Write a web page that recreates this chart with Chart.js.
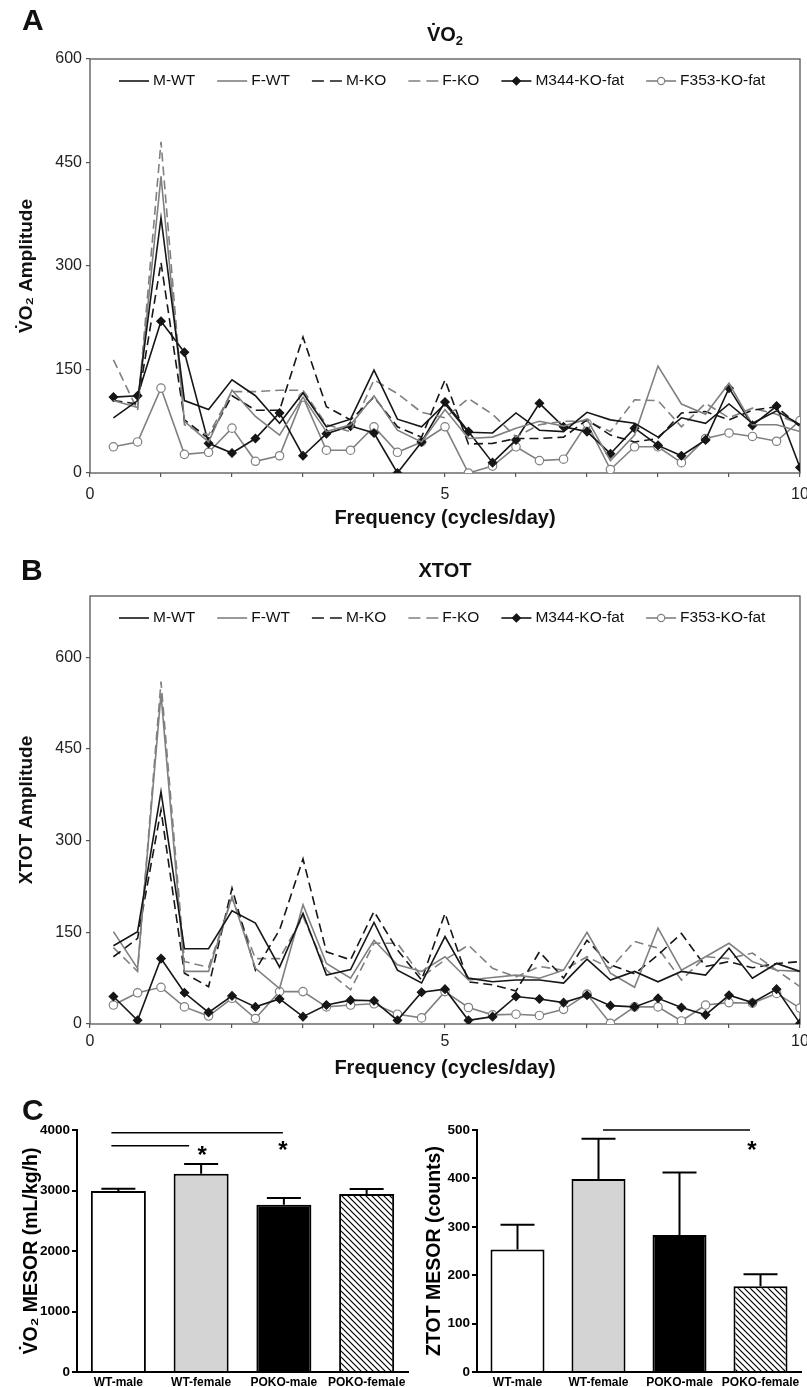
<!DOCTYPE html>
<html>
<head>
<meta charset="utf-8">
<script src="https://cdn.jsdelivr.net/npm/chart.js@4.4.1/dist/chart.umd.min.js"></script>
<style>
body{margin:0;background:#fff;}
#fig{position:relative;width:807px;height:1387px;overflow:hidden;font-family:"Liberation Sans",Arial,sans-serif;color:#111;}
canvas{position:absolute;}
.lbl{position:absolute;font-weight:bold;white-space:nowrap;}
.lbl sub{font-size:13px;line-height:0;vertical-align:-4px;}
</style>
</head>
<body>
<div id="fig">
  <canvas id="chA" width="807" height="530" style="left:0;top:0"></canvas>
  <canvas id="chB" width="807" height="550" style="left:0;top:540px"></canvas>
  <canvas id="chC1" width="410" height="287" style="left:0;top:1100px"></canvas>
  <canvas id="chC2" width="407" height="287" style="left:400px;top:1100px"></canvas>
  <div class="lbl" style="left:22px;top:2px;font-size:30px;line-height:36px">A</div>
  <div class="lbl" style="left:345px;width:200px;text-align:center;top:22px;font-size:20px;line-height:24px">V&#775;O<sub>2</sub></div>
  <div class="lbl" style="left:21px;top:552px;font-size:30px;line-height:36px">B</div>
  <div class="lbl" style="left:345px;width:200px;text-align:center;top:558px;font-size:20px;line-height:24px">XTOT</div>
  <div class="lbl" style="left:22px;top:1092px;font-size:30px;line-height:36px">C</div>
</div>
<script>
// frequencies (cycles/day)
const freq = [0.33,0.67,1,1.33,1.67,2,2.33,2.67,3,3.33,3.67,4,4.33,4.67,5,5.33,5.67,6,6.33,6.67,7,7.33,7.67,8,8.33,8.67,9,9.33,9.67,10];
const seriesNames = ['M-WT','F-WT','M-KO','F-KO','M344-KO-fat','F353-KO-fat'];

// panel A: VO2 amplitude
const vo2MWT  = [80,105,370,105,92,135,112,72,116,67,78,149,78,67,100,59,58,87,62,60,88,77,72,52,80,72,100,72,90,70];
const vo2FWT  = [105,95,430,75,45,120,82,55,110,60,70,112,62,45,92,50,52,65,75,68,78,18,55,155,100,85,130,70,70,60];
const vo2MKO  = [105,100,305,77,50,112,91,91,197,96,77,110,67,52,135,42,43,50,50,52,77,55,45,50,87,89,77,91,96,67];
const vo2FKO  = [164,91,480,70,55,118,118,120,120,70,60,135,115,88,80,108,85,52,70,75,75,60,106,105,67,101,80,94,85,70];
const vo2M344 = [110,112,220,175,43,29,50,87,25,57,68,58,0,45,103,60,15,48,101,67,60,28,65,40,25,48,123,69,97,8];
const vo2F353 = [38,45,123,27,30,65,17,25,110,33,33,67,30,45,67,0,10,38,18,20,72,5,38,38,15,50,58,53,46,76];

// panel B: XTOT amplitude
const xtotMWT  = [128,151,380,123,123,185,165,93,181,80,89,166,88,67,143,75,69,72,72,67,106,72,86,69,86,80,124,75,99,86];
const xtotFWT  = [151,91,540,86,86,208,91,58,195,99,75,137,97,86,110,72,76,80,75,88,150,83,60,157,88,110,132,102,88,86];
const xtotMKO  = [110,140,350,83,61,222,88,154,270,118,105,184,121,72,181,69,64,54,118,75,137,97,82,113,148,94,102,92,99,102];
const xtotFKO  = [125,86,560,102,93,206,107,107,176,88,56,132,132,77,105,129,91,77,94,88,110,91,135,124,72,110,107,116,88,61];
const xtotM344 = [45,6,107,51,19,46,28,41,12,31,39,38,6,52,57,6,12,45,41,35,47,30,28,42,27,15,47,35,57,1];
const xtotF353 = [31,51,60,28,13,42,9,53,53,28,31,33,16,10,53,27,15,16,14,24,49,1,28,28,5,31,35,34,50,26];

// panel C: MESOR means and SEM
const groups = ['WT-male','WT-female','POKO-male','POKO-female'];
const vo2Mesor = [2990,3277,2764,2941];
const vo2Sem   = [40,160,111,83];
const ztotMesor = [253,399,283,177];
const ztotSem   = [51,83,129,25];

const FONT = '"Liberation Sans", Arial, sans-serif';
const BLACK = '#161616', GRAY = '#808080';

const styles = [
  {color: BLACK, dash: []},
  {color: GRAY, dash: []},
  {color: BLACK, dash: [9,5]},
  {color: GRAY, dash: [9,5]},
  {color: BLACK, dash: [], point: 'rectRot', fill: BLACK},
  {color: GRAY, dash: [], point: 'circle', fill: '#fff'}
];

function makeSets(list){
  return list.map((vals, i) => {
    const s = styles[i];
    return {
      label: seriesNames[i],
      data: freq.map((f, k) => ({x: f, y: vals[k]})),
      borderColor: s.color,
      borderWidth: 1.6,
      borderDash: s.dash,
      pointStyle: s.point || 'circle',
      pointRadius: s.point ? 4.2 : 0,
      pointBackgroundColor: s.fill || s.color,
      pointBorderColor: s.color,
      pointBorderWidth: 1.2,
      tension: 0,
      fill: false
    };
  });
}

// box round the plot area
const framePlugin = {
  id: 'frame',
  beforeDatasetsDraw(chart){
    const {ctx, chartArea: a} = chart;
    ctx.save();
    ctx.strokeStyle = '#555';
    ctx.lineWidth = 1.3;
    ctx.strokeRect(a.left, a.top, a.right - a.left, a.bottom - a.top);
    ctx.restore();
  }
};

// legend drawn inside the plot area, one row
const insideLegend = {
  id: 'insideLegend',
  afterDraw(chart){
    const {ctx, chartArea: a} = chart;
    let x = a.left + 29;
    const y = a.top + 22;
    ctx.save();
    ctx.font = '15.5px ' + FONT;
    ctx.textBaseline = 'middle';
    chart.data.datasets.forEach(ds => {
      ctx.strokeStyle = ds.borderColor;
      ctx.lineWidth = ds.borderWidth;
      ctx.setLineDash(ds.borderDash && ds.borderDash.length ? [12, 6] : []);
      ctx.beginPath(); ctx.moveTo(x, y); ctx.lineTo(x + 30, y); ctx.stroke();
      ctx.setLineDash([]);
      if(ds.pointRadius > 0){
        const r = ds.pointStyle === 'rectRot' ? 4 : 3.6, cx = x + 15;
        ctx.fillStyle = ds.pointBackgroundColor;
        ctx.lineWidth = ds.pointBorderWidth;
        ctx.beginPath();
        if(ds.pointStyle === 'rectRot'){
          ctx.moveTo(cx, y - r); ctx.lineTo(cx + r, y); ctx.lineTo(cx, y + r); ctx.lineTo(cx - r, y); ctx.closePath();
        } else {
          ctx.arc(cx, y, r, 0, Math.PI * 2);
        }
        ctx.fill(); ctx.stroke();
      }
      ctx.fillStyle = '#111';
      ctx.fillText(ds.label, x + 34, y);
      x += 34 + ctx.measureText(ds.label).width + 22;
    });
    ctx.restore();
  }
};

function lineChart(id, sets, yMax, yTicks, yTitle, geo){
  return new Chart(document.getElementById(id), {
    type: 'line',
    data: {datasets: makeSets(sets)},
    options: {
      responsive: false,
      animation: false,
      layout: {padding: {left: 0, right: 7, top: geo.top, bottom: 0}},
      plugins: {legend: {display: false}, tooltip: {enabled: false}},
      scales: {
        x: {
          type: 'linear', min: 0, max: 10,
          grid: {display: true, drawOnChartArea: false, drawTicks: true, tickLength: 4, color: '#555', lineWidth: 1.2},
          border: {display: false},
          ticks: {stepSize: 1, autoSkip: false, maxRotation: 0, padding: geo.tickPad, color: '#222',
                  font: {family: FONT, size: 16},
                  callback: v => (v % 5 === 0 ? v : '')},
          title: {display: true, text: 'Frequency (cycles/day)', color: '#111',
                  font: {family: FONT, size: 20, weight: 'bold'}, padding: {top: 0, bottom: geo.titlePad}},
          afterFit: s => { s.height = geo.xh; s.paddingLeft = 0; s.paddingRight = 0; }
        },
        y: {
          min: 0, max: yMax,
          grid: {display: true, drawOnChartArea: false, drawTicks: true, tickLength: 4, color: '#555', lineWidth: 1.2},
          border: {display: false},
          afterBuildTicks: s => { s.ticks = yTicks.map(v => ({value: v})); },
          ticks: {padding: 4, color: '#222', font: {family: FONT, size: 16}},
          title: {display: true, text: yTitle, color: '#111',
                  font: {family: FONT, size: 19, weight: 'bold'}, padding: {top: 15, bottom: 0}},
          afterFit: s => { s.width = 90; }
        }
      }
    },
    plugins: [framePlugin, insideLegend]
  });
}

lineChart('chA', [vo2MWT, vo2FWT, vo2MKO, vo2FKO, vo2M344, vo2F353], 600, [0,150,300,450,600],
  'V\u0307O\u2082 Amplitude', {top: 59, xh: 57, tickPad: 8, titlePad: 0});
lineChart('chB', [xtotMWT, xtotFWT, xtotMKO, xtotFKO, xtotM344, xtotF353], 700, [0,150,300,450,600],
  'XTOT Amplitude', {top: 56, xh: 66, tickPad: 4, titlePad: 10});

// error bars (upward only) and significance marks
const errPlugin = {
  id: 'errbars',
  afterDatasetsDraw(chart){
    const {ctx} = chart;
    const meta = chart.getDatasetMeta(0);
    const ds = chart.data.datasets[0];
    const y = chart.scales.y;
    ctx.save();
    ctx.strokeStyle = '#000';
    ctx.lineWidth = 2;
    meta.data.forEach((bar, i) => {
      const top = y.getPixelForValue(ds.data[i] + ds.sem[i]);
      ctx.beginPath();
      ctx.moveTo(bar.x, bar.y); ctx.lineTo(bar.x, top);
      ctx.moveTo(bar.x - 17, top); ctx.lineTo(bar.x + 17, top);
      ctx.stroke();
    });
    ctx.restore();
  }
};
const sigPlugin = {
  id: 'sig',
  afterDatasetsDraw(chart, args, opts){
    const {ctx} = chart;
    const meta = chart.getDatasetMeta(0);
    const y = chart.scales.y;
    ctx.save();
    ctx.strokeStyle = '#000';
    ctx.lineWidth = 1.6;
    (opts.lines || []).forEach(l => {
      const yy = y.getPixelForValue(l.v);
      ctx.beginPath();
      ctx.moveTo(meta.data[l.a].x + l.da, yy);
      ctx.lineTo(meta.data[l.b].x + l.db, yy);
      ctx.stroke();
    });
    ctx.fillStyle = '#000';
    ctx.font = 'bold 24px ' + FONT;
    ctx.textAlign = 'center';
    ctx.textBaseline = 'alphabetic';
    (opts.stars || []).forEach(s => {
      ctx.fillText('*', meta.data[s.i].x + s.dx, y.getPixelForValue(s.v) + 14);
    });
    ctx.restore();
  }
};

function hatch(canvasId){
  const c = document.createElement('canvas');
  c.width = 6; c.height = 6;
  const g = c.getContext('2d');
  g.fillStyle = '#fff'; g.fillRect(0, 0, 6, 6);
  g.strokeStyle = '#000'; g.lineWidth = 1.2;
  g.beginPath();
  g.moveTo(-1, -1); g.lineTo(7, 7);
  g.moveTo(-1, 5); g.lineTo(1, 7);
  g.moveTo(5, -1); g.lineTo(7, 1);
  g.stroke();
  return document.getElementById(canvasId).getContext('2d').createPattern(c, 'repeat');
}

function barChart(id, vals, sem, yMax, step, yTitle, titlePad, padRight, barPct, sig){
  return new Chart(document.getElementById(id), {
    type: 'bar',
    data: {
      labels: groups,
      datasets: [{
        data: vals,
        sem: sem,
        backgroundColor: ['#fff', '#d4d4d4', '#000', hatch(id)],
        borderColor: '#000',
        borderWidth: 2,
        categoryPercentage: 1,
        barPercentage: barPct
      }]
    },
    options: {
      responsive: false,
      animation: false,
      layout: {padding: {left: 0, right: padRight, top: 30, bottom: 0}},
      plugins: {legend: {display: false}, tooltip: {enabled: false}, sig: sig},
      scales: {
        x: {
          grid: {display: false, drawTicks: false},
          border: {display: true, color: '#000', width: 2},
          ticks: {padding: 3, color: '#000', maxRotation: 0, autoSkip: false,
                  font: {family: FONT, size: 12, weight: 'bold'}},
          afterFit: s => { s.height = 15; s.paddingLeft = 0; s.paddingRight = 0; }
        },
        y: {
          min: 0, max: yMax,
          grid: {display: true, drawOnChartArea: false, drawTicks: true, tickLength: 5, color: '#000', lineWidth: 2},
          border: {display: true, color: '#000', width: 2},
          ticks: {stepSize: step, padding: 2, color: '#000', font: {family: FONT, size: 13.5, weight: 'bold'},
                  callback: v => String(v)},
          title: {display: true, text: yTitle, color: '#000',
                  font: {family: FONT, size: 19.5, weight: 'bold'}, padding: {top: titlePad, bottom: 0}},
          afterFit: s => { s.width = 77; }
        }
      }
    },
    plugins: [errPlugin, sigPlugin]
  });
}

barChart('chC1', vo2Mesor, vo2Sem, 4000, 1000, 'V\u0307O\u2082 MESOR (mL/kg/h)', 20, 2, 0.665, {
  lines: [{a: 0, da: -7, b: 2, db: -1, v: 3955}, {a: 0, da: -7, b: 1, db: -12, v: 3740}],
  stars: [{i: 1, dx: 1, v: 3686}, {i: 2, dx: -1, v: 3770}]
});
barChart('chC2', ztotMesor, ztotSem, 500, 100, 'ZTOT MESOR (counts)', 23, 6, 0.667, {
  lines: [{a: 1, da: 4.5, b: 3, db: -10.5, v: 500}],
  stars: [{i: 3, dx: -8.5, v: 472}]
});
</script>
</body>
</html>
